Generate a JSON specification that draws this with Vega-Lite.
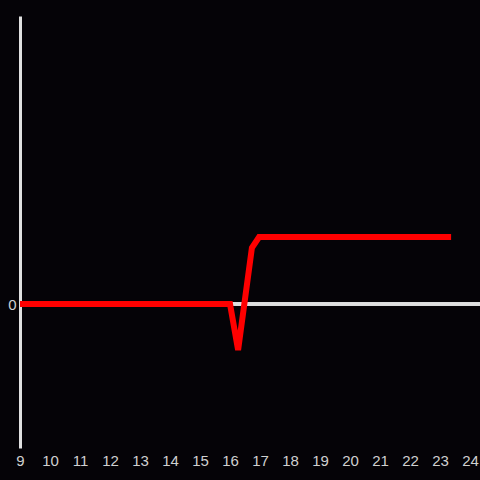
{
  "$schema": "https://vega.github.io/schema/vega-lite/v6.json",
  "width": 460,
  "height": 432,
  "autosize": {"type": "none"},
  "padding": {"left": 20, "top": 16, "right": 0, "bottom": 32},
  "background": "#050307",
  "config": {
    "view": {"stroke": null},
    "axis": {"labelFont": "Liberation Sans", "labelFontSize": 15, "labelColor": "#d0d0d0", "grid": false}
  },
  "data": {"values": [
    {"x": 9, "y": 0},
    {"x": 16.0, "y": 0},
    {"x": 16.27, "y": -0.32},
    {"x": 16.73, "y": 0.39},
    {"x": 16.97, "y": 0.465},
    {"x": 23.37, "y": 0.465}
  ]},
  "layer": [
    {
      "mark": {"type": "rule", "stroke": "#e0e0e0", "strokeWidth": 3},
      "encoding": {"y": {"datum": 0, "type": "quantitative", "scale": {"domain": [-1, 2]}}}
    },
    {
      "mark": {"type": "line", "stroke": "#ff0000", "strokeWidth": 6, "clip": true},
      "encoding": {
        "x": {"field": "x", "type": "quantitative", "scale": {"domain": [9, 24.333], "nice": false, "zero": false},
          "axis": {"title": null, "values": [9,10,11,12,13,14,15,16,17,18,19,20,21,22,23,24], "domain": false, "ticks": false, "labelPadding": 5, "labelFlush": false}},
        "y": {"field": "y", "type": "quantitative", "scale": {"domain": [-1, 2], "nice": false},
          "axis": {"title": null, "values": [0], "format": "d", "ticks": false, "domainColor": "#e0e0e0", "domainWidth": 3, "labelPadding": 4}}
      }
    }
  ]
}
